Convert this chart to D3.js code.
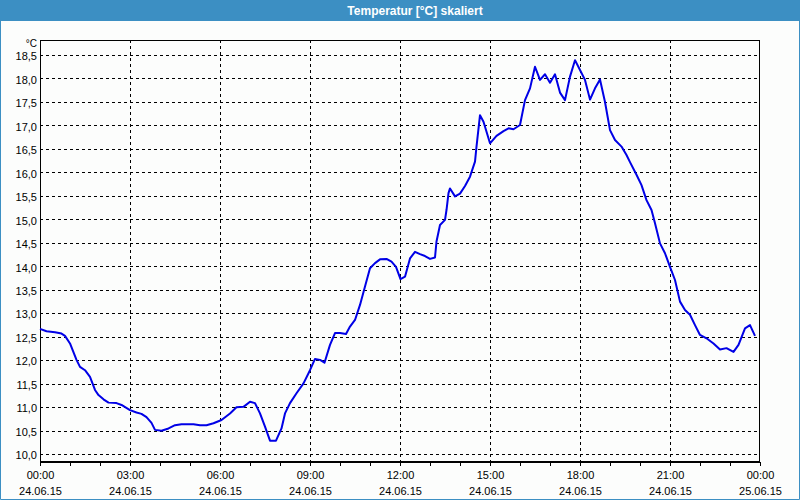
<!DOCTYPE html>
<html><head><meta charset="utf-8">
<script src="https://cdn.jsdelivr.net/npm/d3@7"></script>
<style>body{margin:0;background:#fcfdfc;}svg{display:block;}</style>
</head><body>
<svg id="c" width="800" height="500"></svg>
<script>
const title = "Temperatur [°C] skaliert";
const unit = "°C";
// minutes since 00:00 24.06.15
const minutes = [0,13,30,43,50,60,73,80,90,100,110,117,127,137,153,163,180,193,203,213,223,230,243,257,270,283,307,320,333,347,363,380,393,407,420,430,440,450,460,472,483,490,500,513,527,540,550,560,569,580,590,600,612,620,630,640,650,660,670,680,693,703,712,721,730,740,750,760,770,780,790,793,800,810,813,817,820,830,840,850,860,870,873,880,887,900,913,927,937,947,960,970,980,990,1000,1010,1020,1030,1040,1050,1060,1070,1080,1090,1100,1110,1120,1130,1140,1150,1163,1173,1180,1193,1203,1213,1223,1230,1240,1250,1260,1270,1280,1290,1300,1310,1320,1333,1347,1360,1373,1387,1397,1410,1420,1430];
const temps = [12.67,12.62,12.60,12.57,12.52,12.36,12.01,11.86,11.79,11.65,11.37,11.26,11.17,11.10,11.09,11.05,10.94,10.89,10.86,10.79,10.67,10.52,10.50,10.55,10.62,10.64,10.64,10.62,10.62,10.66,10.73,10.87,11.00,11.01,11.12,11.09,10.87,10.59,10.29,10.29,10.55,10.87,11.09,11.30,11.51,11.79,12.03,12.01,11.95,12.33,12.58,12.58,12.56,12.72,12.86,13.18,13.57,13.96,14.07,14.15,14.16,14.10,13.99,13.73,13.78,14.17,14.31,14.26,14.22,14.16,14.19,14.53,14.88,14.99,15.20,15.56,15.66,15.49,15.55,15.71,15.91,16.23,16.55,17.22,17.08,16.62,16.78,16.88,16.94,16.92,17.01,17.54,17.79,18.25,17.97,18.09,17.91,18.09,17.70,17.54,18.04,18.39,18.18,17.97,17.55,17.79,17.98,17.50,16.90,16.69,16.55,16.37,16.22,15.95,15.73,15.41,15.20,14.92,14.49,14.28,13.99,13.71,13.25,13.07,12.97,12.75,12.54,12.47,12.36,12.23,12.26,12.18,12.33,12.68,12.75,12.52];
const yTicks = [10.0,10.5,11.0,11.5,12.0,12.5,13.0,13.5,14.0,14.5,15.0,15.5,16.0,16.5,17.0,17.5,18.0,18.5];
const xTickMinutes = [0,180,360,540,720,900,1080,1260,1440];
const xTickTimes = ["00:00","03:00","06:00","09:00","12:00","15:00","18:00","21:00","00:00"];
const xTickDates = ["24.06.15","24.06.15","24.06.15","24.06.15","24.06.15","24.06.15","24.06.15","24.06.15","25.06.15"];

const svg = d3.select("#c");
const W = 800, H = 500;
const blue = "#3c8fc3";
const L = 40, R = 760, T = 40, B = 461;

svg.append("rect").attr("x",0).attr("y",0).attr("width",W).attr("height",H).attr("fill","#fcfdfc");
svg.append("rect").attr("x",0).attr("y",0).attr("width",W).attr("height",21).attr("fill",blue);
svg.append("text").attr("x",415).attr("y",14.5).attr("text-anchor","middle")
  .attr("font-family","Liberation Sans, Arial, sans-serif").attr("font-weight","bold")
  .attr("font-size",12).attr("fill","#ffffff").text(title);
// window border
svg.append("path").attr("d",`M0.5,21V499.5H799.5V21`).attr("fill","none").attr("stroke",blue).attr("stroke-width",1);

const x = d3.scaleLinear().domain([0,1440]).range([L,R]);
const y = d3.scaleLinear().domain([10,18.5]).range([454.3,55]);
const crisp = v => Math.round(v)+0.5;

const g = svg.append("g");
// horizontal grid
g.selectAll(".hg").data(yTicks).enter().append("line")
  .attr("x1",L).attr("x2",R).attr("y1",d=>crisp(y(d))).attr("y2",d=>crisp(y(d)))
  .attr("stroke","#000").attr("stroke-dasharray","3,3").attr("shape-rendering","crispEdges");
// vertical grid
g.selectAll(".vg").data(xTickMinutes.slice(1,-1)).enter().append("line")
  .attr("y1",T).attr("y2",B).attr("x1",d=>crisp(x(d))).attr("x2",d=>crisp(x(d)))
  .attr("stroke","#000").attr("stroke-dasharray","3,3").attr("shape-rendering","crispEdges");

// frame
svg.append("rect").attr("x",L+0.5).attr("y",T+0.5).attr("width",R-L-1).attr("height",B-T)
  .attr("fill","none").attr("stroke","#000").attr("shape-rendering","crispEdges");

// x axis
const xAxis = d3.axisBottom(x).tickValues(d3.range(0,1441,60)).tickSize(4).tickFormat("");
const ax = svg.append("g").attr("transform",`translate(0,${B+0.5})`).call(xAxis);
ax.select(".domain").attr("stroke","#000").attr("shape-rendering","crispEdges");
ax.selectAll(".tick line").attr("stroke","#000").attr("shape-rendering","crispEdges");
ax.selectAll(".tick").attr("transform",d=>`translate(${crisp(x(d))},0)`);

const lab = svg.append("g").attr("font-family","Liberation Sans, Arial, sans-serif").attr("font-size",11).attr("fill","#000");
xTickMinutes.forEach((m,i)=>{
  lab.append("text").attr("x",x(m)+0.5).attr("y",479).attr("text-anchor","middle").text(xTickTimes[i]);
  lab.append("text").attr("x",x(m)+0.5).attr("y",495).attr("text-anchor","middle").text(xTickDates[i]);
});
// y axis labels
const yAxis = d3.axisLeft(y).tickValues(yTicks).tickSize(0).tickPadding(0)
  .tickFormat(d=>d3.format(".1f")(d).replace(".",","));
const ay = svg.append("g").attr("transform",`translate(37,0)`).call(yAxis);
ay.select(".domain").remove();
ay.selectAll("text").attr("font-family","Liberation Sans, Arial, sans-serif").attr("font-size",11).attr("fill","#000").attr("dy","0.42em");
lab.append("text").attr("x",37).attr("y",46.5).attr("font-size",10).attr("text-anchor","end").text(unit);

// data line
const line = d3.line().x((d,i)=>x(minutes[i])).y(d=>y(d));
svg.append("path").datum(temps).attr("d",line).attr("fill","none").attr("stroke","#0000e6").attr("stroke-width",2).attr("stroke-linejoin","round");
</script>
</body></html>
